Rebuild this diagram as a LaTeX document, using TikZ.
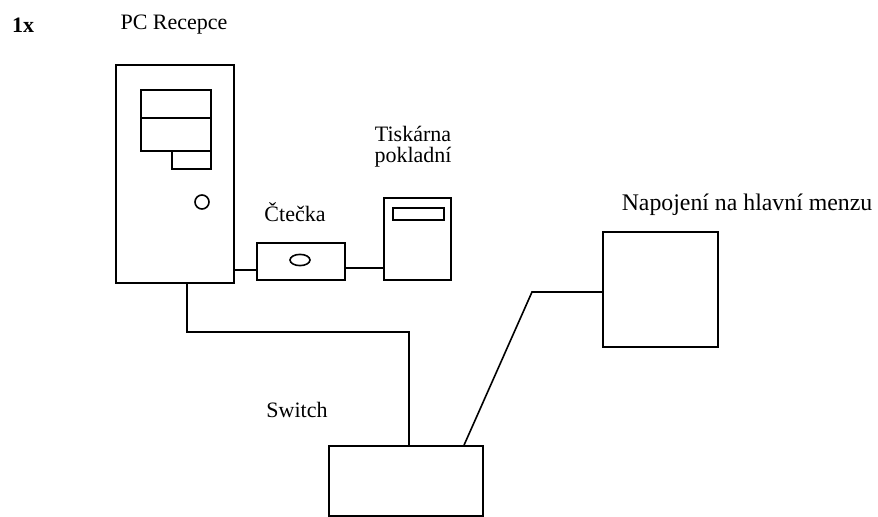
\documentclass[tikz,border=0pt]{standalone}
\usepackage{fontspec}
\setmainfont{Liberation Serif}
\usetikzlibrary{positioning}

\tikzset{
  box/.style={draw, line width=0.8pt, inner sep=0pt},
  lbl/.style={font=\fontsize{11}{10.5}\selectfont, align=center, inner sep=0pt},
  wire/.style={line width=0.8pt},
}

\begin{document}
\begin{tikzpicture}[x=0.5pt, y=-0.5pt]
  \useasboundingbox (0,0) rectangle (878,517);

  \node[lbl, font=\fontsize{11}{13}\selectfont\bfseries] (count) at (23,25) {1x};
  \node[lbl] (pclbl) at (174,25) {PC Recepce};

  % PC tower
  \node[box, minimum width=59pt, minimum height=109pt] (pc) at (175,174) {};
  \node[box, minimum width=35pt, minimum height=14pt] (drive1) at (176,104) {};
  \node[box, minimum width=35pt, minimum height=16.5pt] (drive2) at (176,134.5) {};
  \node[box, minimum width=19.5pt, minimum height=9pt] (drive3) at (191.5,160) {};
  \draw[wire] (202,202) circle[radius=3.5pt];

  % reader
  \node[lbl] (rdlbl) at (295,212) {Čtečka};
  \node[box, minimum width=44pt, minimum height=18.5pt] (reader) at (301,261.5) {};
  \draw[wire] (300,260) ellipse[x radius=5pt, y radius=2.8pt];

  % printer
  \node[lbl] (prlbl) at (413,147) {Tiskárna\\pokladní};
  \node[box, minimum width=33.5pt, minimum height=41pt] (printer) at (417.5,239) {};
  \node[box, minimum width=25.5pt, minimum height=6pt] (slot) at (418.5,214) {};

  % switch
  \node[lbl] (swlbl) at (297,410) {Switch};
  \node[box, minimum width=77pt, minimum height=35pt] (sw) at (406,481) {};

  % main canteen
  \node[lbl, font=\fontsize{11.9}{13}\selectfont] (mzlbl) at (747,205) {Napojení na hlavní menzu};
  \node[box, minimum width=57.5pt, minimum height=57.5pt] (mz) at (660.5,289.5) {};

  % cables
  \draw[wire] ([yshift=-4.25pt]reader.west) -- ([yshift=-4.25pt]reader.west -| pc.east);
  \draw[wire] ([yshift=-3.25pt]reader.east) -- ([yshift=-3.25pt]reader.east -| printer.west);
  \coordinate (pcbend) at (409,332);
  \draw[wire] ([xshift=6pt]pc.south) |- (pcbend) -- (pcbend |- sw.north);
  \coordinate (mzbend) at (532,292);
  \draw[wire] ([xshift=29pt]sw.north) -- (mzbend) -- (mzbend -| mz.west);
\end{tikzpicture}
\end{document}
